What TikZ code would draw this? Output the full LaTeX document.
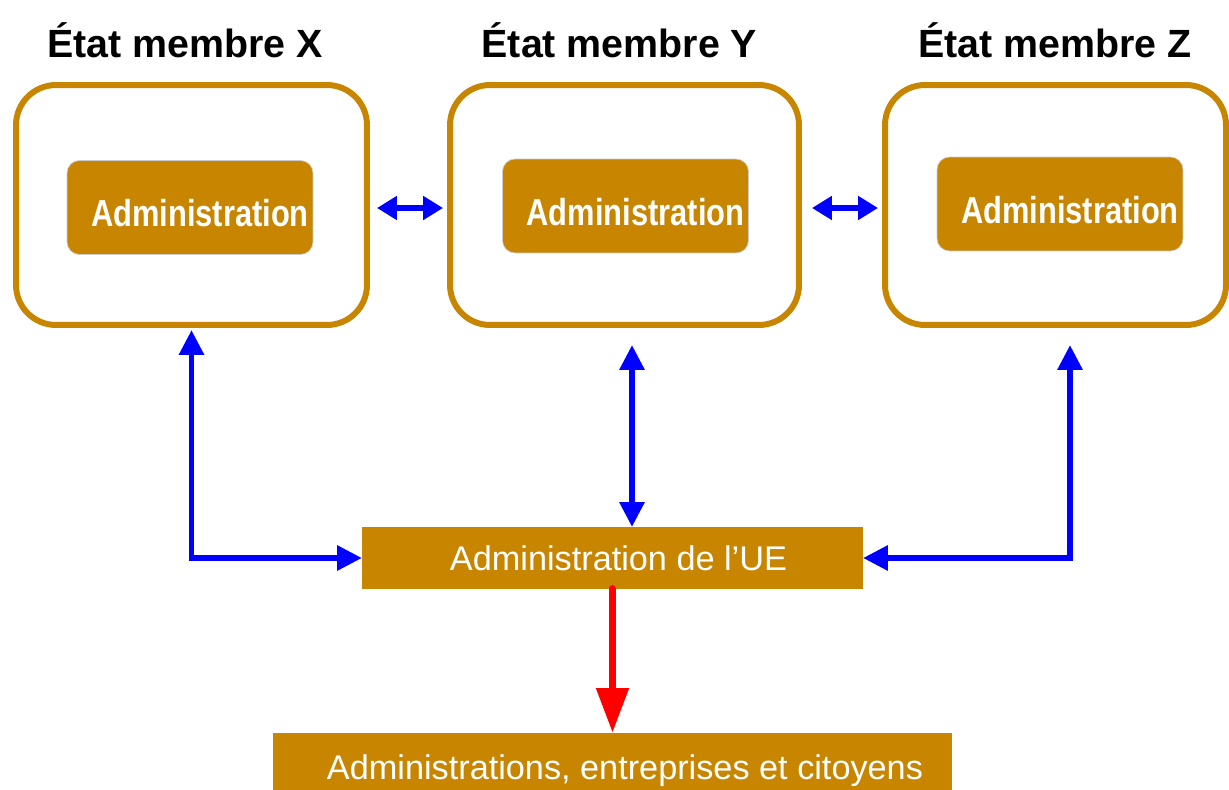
\documentclass[tikz,border=0pt]{standalone}
\usepackage{fontspec}
\setmainfont{Liberation Sans}
\usetikzlibrary{arrows.meta, positioning}
\definecolor{ocre}{RGB}{200,133,0}
\newcommand{\admtexte}{\hspace{0.4cm}\scalebox{0.82}[1]{Administration}}
\tikzstyle{etat} = [draw=ocre, line width=3.4pt, rounded corners=0.8cm, outer sep=0pt]
\tikzstyle{admin} = [fill=ocre, draw=gray!40, thin, rounded corners=0.25cm, text=white,
  font=\fontsize{21.4}{24}\selectfont\bfseries, minimum width=4.92cm, minimum height=1.88cm,
  inner xsep=0pt, text height=0.78cm, text depth=0cm]
\tikzstyle{bande} = [fill=ocre, text=white, outer sep=0pt, font=\fontsize{19.5}{23}\selectfont]
\tikzstyle{titre} = [font=\fontsize{22.4}{26}\selectfont\bfseries]
\tikzstyle{lien} = [blue, line width=3.4pt, {Triangle[length=0.5cm, width=0.48cm]}-{Triangle[length=0.5cm, width=0.48cm]}]
\tikzstyle{petit} = [blue, line width=3.4pt, {Triangle[length=0.4cm, width=0.46cm]}-{Triangle[length=0.4cm, width=0.46cm]}]

\begin{document}
\begin{tikzpicture}[x=0.02cm, y=-0.02cm]
    \useasboundingbox (0,0) rectangle (1229,790);

    % Etats membres
    \node[etat, minimum width=7.02cm, minimum height=4.8cm] (etatX) at (191.5,205) {};
    \node[etat, minimum width=6.98cm, minimum height=4.8cm] (etatY) at (624.5,205) {};
    \node[etat, minimum width=6.82cm, minimum height=4.8cm] (etatZ) at (1055.5,205) {};

    \node[admin] (adminX) at (190,207.5) {\admtexte};
    \node[admin] (adminY) at (625.5,206) {\admtexte};
    \node[admin] (adminZ) at (1060,204) {\admtexte};

    \node[titre] (titreX) at (185,40) {État membre X};
    \node[titre] (titreY) at (619.5,40) {État membre Y};
    \node[titre] (titreZ) at (1055,40) {État membre Z};

    % Niveau UE
    \node[bande, minimum width=10.02cm, minimum height=1.24cm] (ue) at (612.5,558)
      {\hspace{0.24cm}Administration de l’UE};
    \node[bande, minimum width=13.58cm, minimum height=1.24cm, text height=0.62cm, text depth=0cm]
      (public) at (612.5,764) {\hspace{0.5cm}Administrations, entreprises et citoyens};

    % Liaisons
    \draw[lien] (ue.west) -| ([yshift=-0.1cm]etatX.south);
    \draw[lien] ([xshift=0.15cm, yshift=-0.4cm]etatY.south) -- ([xshift=0.15cm]etatY.south |- ue.north);
    \draw[lien] (ue.east) -| ([xshift=0.29cm, yshift=-0.4cm]etatZ.south);
    \draw[petit, shorten <=0.2cm, shorten >=0.14cm] ([yshift=-0.06cm]etatX.east) -- ([yshift=-0.06cm]etatY.west);
    \draw[petit, shorten <=0.26cm, shorten >=0.14cm] ([yshift=-0.06cm]etatY.east) -- ([yshift=-0.06cm]etatZ.west);
    \draw[red, line width=4.5pt, line cap=round, -{Triangle[length=0.9cm, width=0.62cm]}]
      (ue.south) -- (public.north);
\end{tikzpicture}
\end{document}
